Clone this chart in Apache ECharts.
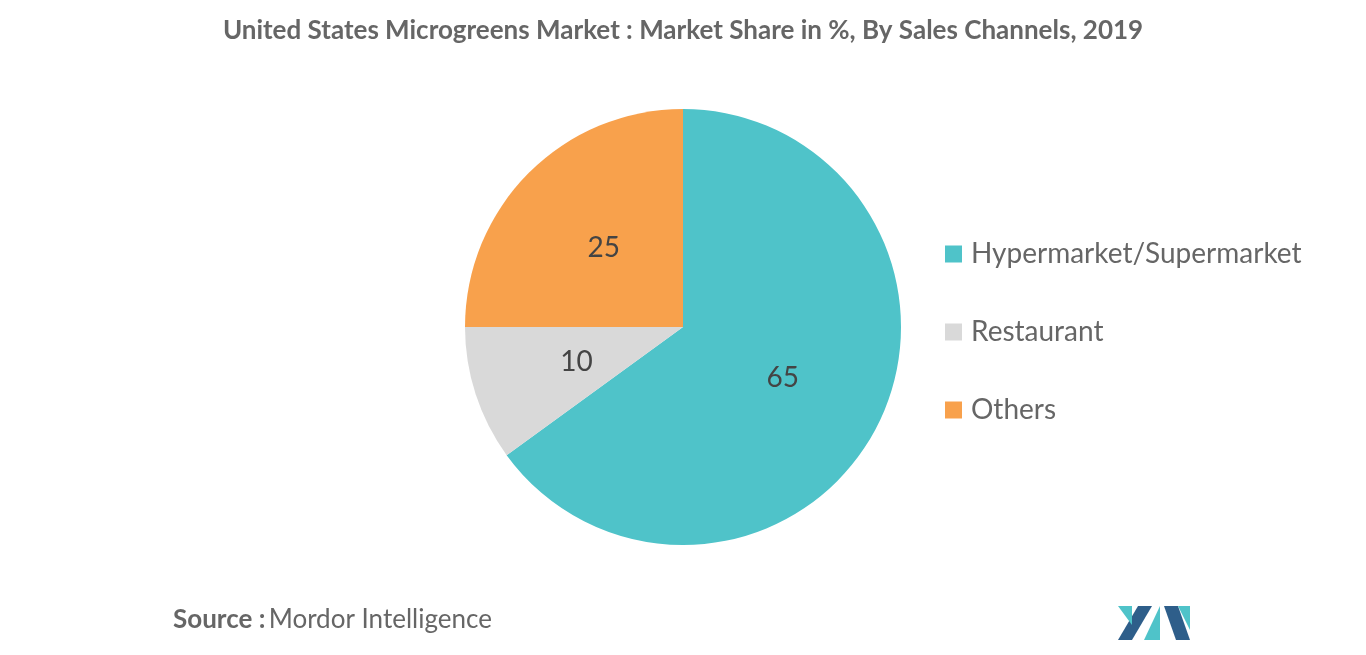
<!DOCTYPE html>
<html>
<head>
<meta charset="utf-8">
<script src="https://cdn.jsdelivr.net/npm/echarts@6/dist/echarts.min.js"></script>
<style>
html,body{margin:0;padding:0;background:#fff;}
#main{width:1366px;height:655px;}
</style>
</head>
<body>
<div id="main"></div>
<script>
// data
var channels = ['Hypermarket/Supermarket', 'Restaurant', 'Others'];
var shares = [65, 10, 25];
var colors = ['#4FC3C9', '#D9D9D9', '#F8A14C'];

var myChart = echarts.init(document.getElementById('main'));
var option = {
  title: {
    text: 'United States Microgreens Market : Market Share in %, By Sales Channels, 2019',
    left: 'center', top: 13,
    textStyle: {fontFamily: 'Lato', fontSize: 26, fontWeight: 'bold', color: '#666'}
  },
  legend: {
    orient: 'vertical', left: 940, top: 235,
    itemWidth: 17, itemHeight: 17, itemGap: 50, icon: 'rect',
    data: channels,
    textStyle: {fontFamily: 'Lato', fontSize: 28, color: '#666', padding: [0, 0, 0, 4]}
  },
  series: [{
    type: 'pie',
    center: [683, 327], radius: [0, 218],
    startAngle: 90, clockwise: true,
    label: {show: true, position: 'inside', formatter: '{c}',
      fontFamily: 'Lato', fontSize: 28, color: '#444'},
    labelLine: {show: false},
    emphasis: {disabled: true},
    data: channels.map(function (c, i) {
      return {name: c, value: shares[i], itemStyle: {color: colors[i]}};
    })
  }],
  graphic: [
    {type: 'text', left: 173, top: 607, style: {
      rich: {a: {fontFamily: 'Lato', fontSize: 26, fontWeight: 'bold', fill: '#666'},
             b: {fontFamily: 'Lato', fontSize: 26, fill: '#666'}},
      text: '{a|Source :} {b|Mordor Intelligence}'}},
    {type: 'polygon', shape: {points: [[1118,640],[1138,606],[1152,606],[1132,640]]}, style: {fill: '#2E5E8A'}},
    {type: 'polygon', shape: {points: [[1118,606],[1132,606],[1132,625]]}, style: {fill: '#4FC3C9'}},
    {type: 'polygon', shape: {points: [[1144,640],[1160,606],[1160,640]]}, style: {fill: '#4FC3C9'}},
    {type: 'polygon', shape: {points: [[1164,606],[1178,606],[1190,640],[1176,640]]}, style: {fill: '#2E5E8A'}},
    {type: 'polygon', shape: {points: [[1178,606],[1190,606],[1190,630]]}, style: {fill: '#4FC3C9'}}
  ]
};
myChart.setOption(option);
</script>
</body>
</html>
